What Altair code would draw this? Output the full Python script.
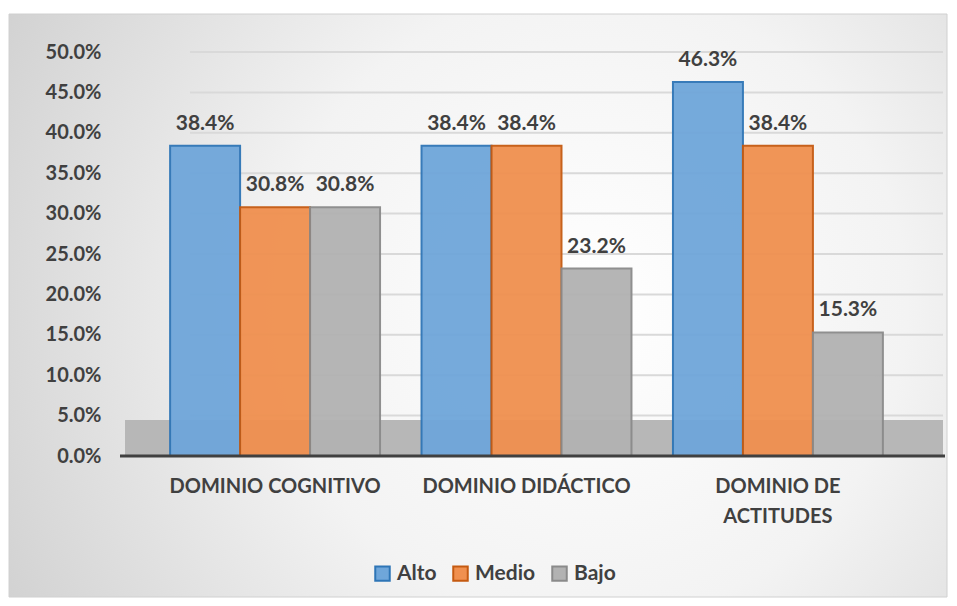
import altair as alt
import pandas as pd

categories = ["DOMINIO COGNITIVO", "DOMINIO DIDÁCTICO", "DOMINIO DE ACTITUDES"]
series = ["Alto", "Medio", "Bajo"]
alto = [0.384, 0.384, 0.463]
medio = [0.308, 0.384, 0.384]
bajo = [0.308, 0.232, 0.153]
y_ticks = [0, 0.05, 0.10, 0.15, 0.20, 0.25, 0.30, 0.35, 0.40, 0.45, 0.50]

fills = ["#6FA6DA", "#F0904F", "#B2B2B2"]
strokes = ["#2E75B6", "#C55A11", "#8A8A8A"]

rows = []
for i, c in enumerate(categories):
    for s, vals in zip(series, [alto, medio, bajo]):
        rows.append({"cat": c, "serie": s, "val": vals[i]})
df = pd.DataFrame(rows)
grid_df = pd.DataFrame({"val": y_ticks})

W, H = 753, 404
PL, PT, PR, PB = 142, 44, 45, 142
FONT = "Lato"
TXT = "#404040"

bg = alt.Chart(alt.Data(values=[{}])).mark_rect(
    fill=alt.RadialGradient(
        gradient="radial",
        stops=[alt.GradientStop(color="#ffffff", offset=0),
               alt.GradientStop(color="#f3f3f3", offset=0.45),
               alt.GradientStop(color="#cdcdcd", offset=1)],
        x1=0.62, y1=0.5, r1=0, x2=0.62, y2=0.5, r2=0.75),
    stroke="#d0d0d0", strokeWidth=1
).encode(
    x=alt.value(-PL + 1), x2=alt.value(W + PR - 1),
    y=alt.value(-PT + 6), y2=alt.value(H + PB - 1)
)

yscale = alt.Scale(domain=[0, 0.5], nice=False)
yaxis = alt.Axis(values=y_ticks, format=".1%", labelFont=FONT, labelFontSize=20,
                 labelFontWeight="bold", labelColor=TXT, labelPadding=49,
                 ticks=False, domain=False, grid=False, zindex=2)

grid = alt.Chart(grid_df).mark_rule(color="#d9d9d9", strokeWidth=2).encode(
    y=alt.Y("val:Q", scale=yscale, title=None, axis=yaxis),
    x=alt.value(40), x2=alt.value(W + 40),
)

floor = alt.Chart(alt.Data(values=[{}])).mark_rect(fill="#b7b7b7").encode(
    x=alt.value(-25), x2=alt.value(W + 40),
    y=alt.value(H - 36), y2=alt.value(H)
)

baseline = alt.Chart(alt.Data(values=[{}])).mark_rule(color=TXT, strokeWidth=3).encode(
    x=alt.value(-30), x2=alt.value(W + 42),
    y=alt.value(H)
)

base = alt.Chart(df)

color = alt.Color("serie:N", sort=series,
                  scale=alt.Scale(domain=series, range=fills),
                  legend=alt.Legend(title=None, orient="none", direction="horizontal",
                                    legendX=222, legendY=511,
                                    symbolType="square", symbolSize=210,
                                    symbolStrokeWidth=2, symbolOpacity=1,
                                    labelFont=FONT, labelFontSize=21, labelFontWeight="bold",
                                    labelColor=TXT, columnPadding=12, labelOffset=4))

x = alt.X("cat:N", sort=categories, title=None,
          scale=alt.Scale(paddingInner=0.165, paddingOuter=0.08),
          axis=alt.Axis(labelAngle=0, labelFont=FONT, labelFontSize=20, labelFontWeight="bold",
                        labelColor=TXT, labelPadding=20, ticks=False, zindex=2, labelLimit=400,
                        domain=False, labelLineHeight=30,
                        labelExpr="datum.label == 'DOMINIO DE ACTITUDES' ? ['DOMINIO DE', 'ACTITUDES'] : datum.label"))
y = alt.Y("val:Q", title=None, scale=yscale, axis=yaxis)

bars = base.mark_bar(strokeWidth=2, opacity=0.95).encode(
    x=x, y=y, color=color,
    xOffset=alt.XOffset("serie:N", sort=series),
    stroke=alt.Stroke("serie:N", sort=series, scale=alt.Scale(domain=series, range=strokes), legend=None),
)

labels = base.mark_text(baseline="bottom", dy=-12, font=FONT, fontSize=21,
                        fontWeight="bold", color=TXT).encode(
    x=alt.X("cat:N", sort=categories),
    xOffset=alt.XOffset("serie:N", sort=series),
    y=y,
    text=alt.Text("val:Q", format=".1%"),
)

chart = alt.layer(bg, grid, floor, bars, baseline, labels).properties(
    width=W, height=H,
    autosize=alt.AutoSizeParams(type="none"),
    padding={"left": PL, "top": PT, "right": PR, "bottom": PB},
).configure_view(stroke=None).configure(background="#ffffff")

chart.save("out.html", embed_options={"renderer": "svg", "actions": False})
